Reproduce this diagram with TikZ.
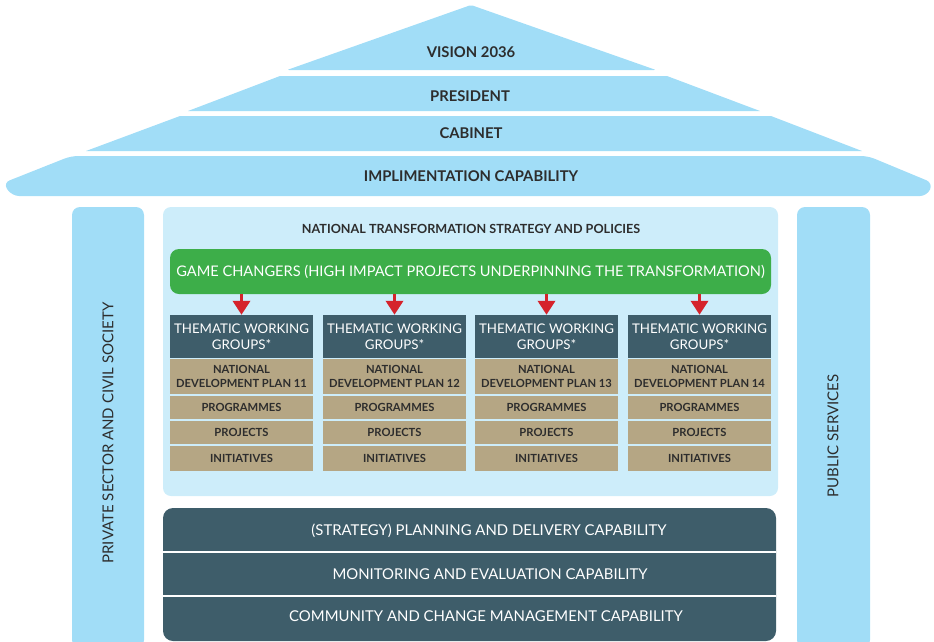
\documentclass[tikz,border=0pt]{standalone}
\usepackage{fontspec}
\setmainfont{Lato}
\usetikzlibrary{arrows.meta}
\definecolor{roofblue}{HTML}{A1DDF7}
\definecolor{panelblue}{HTML}{CDEDFA}
\definecolor{gcgreen}{HTML}{3DAE49}
\definecolor{slate}{HTML}{3E5D6A}
\definecolor{tan}{HTML}{B5A684}
\definecolor{arrowred}{HTML}{D5232B}
\definecolor{textdark}{HTML}{2D2D2D}
\tikzset{
  rooftext/.style={text=textdark, font=\fontsize{14.8}{16}\selectfont\bfseries},
  header/.style={fill=slate, text=white, minimum width=143pt, minimum height=43pt, inner sep=0pt, align=center, font=\fontsize{13.3}{15.5}\selectfont},
  tanbox/.style={fill=tan, text=textdark, minimum width=143pt, inner sep=0pt, align=center, font=\fontsize{11.2}{14}\selectfont\bfseries},
  captext/.style={text=white, font=\fontsize{14.9}{16}\selectfont},
  coltext/.style={text=textdark, rotate=90, font=\fontsize{15}{16}\selectfont},
  redarrow/.style={draw=arrowred, line width=3.5pt, -{Triangle[width=17pt,length=14pt]}, arrowred},
}
\begin{document}
\begin{tikzpicture}[x=1pt,y=-1pt]
\useasboundingbox (0,0) rectangle (934,641);
% roof
\fill[roofblue, rounded corners=2pt] (287,70) -- (471,5) -- (656,70) -- cycle;
\fill[roofblue] (280,76) -- (667,76) -- (760,111) -- (188,111) -- cycle;
\fill[roofblue] (180,116) -- (771,116) -- (862,151) -- (86,151) -- cycle;
\fill[roofblue, rounded corners=7pt] (71,156) -- (868,156) -- (933,183) -- (927,196) -- (12,196) -- (3,183) -- cycle;
\node[rooftext] (vision) at (471,52) {VISION 2036};
\node[rooftext] (president) at (470,96) {PRESIDENT};
\node[rooftext] (cabinet) at (471,133) {CABINET};
\node[rooftext] (impl) at (471,176) {IMPLIMENTATION CAPABILITY};
% columns
\fill[roofblue, rounded corners=8pt] (72,207) rectangle (144,648);
\fill[roofblue, rounded corners=8pt] (797,207) rectangle (870,648);
\node[coltext] (private) at (108,433) {PRIVATE SECTOR AND CIVIL SOCIETY};
\node[coltext] (public) at (833,436) {PUBLIC SERVICES};
% panel
\fill[panelblue, rounded corners=8pt] (163,207) rectangle (778,496);
\node[text=textdark, font=\fontsize{12.6}{14}\selectfont\bfseries] (nts) at (471,229) {NATIONAL TRANSFORMATION STRATEGY AND POLICIES};
\node[fill=gcgreen, rounded corners=9pt, minimum width=601pt, minimum height=45pt, inner sep=0pt, text=white, font=\fontsize{14.6}{16}\selectfont] (gc) at (470.5,271.5) {GAME CHANGERS (HIGH IMPACT PROJECTS UNDERPINNING THE TRANSFORMATION)};
% thematic columns
\foreach \i/\cx/\n in {1/241.5/11, 2/394.5/12, 3/546.5/13, 4/699.5/14} {
  \node[header] (twg\i) at (\cx,336.5) {THEMATIC WORKING\\GROUPS*};
  \node[tanbox, minimum height=35pt] (ndp\i) at (\cx,376.5) {NATIONAL\\DEVELOPMENT PLAN \n};
  \node[tanbox, minimum height=23pt] (prog\i) at (\cx,407.5) {PROGRAMMES};
  \node[tanbox, minimum height=23pt] (proj\i) at (\cx,432.5) {PROJECTS};
  \node[tanbox, minimum height=25pt] (init\i) at (\cx,458.5) {INITIATIVES};
  \draw[redarrow] (gc.south -| twg\i.north) -- (twg\i.north);
}
% capability block
\fill[slate, rounded corners=10pt] (163,508) rectangle (776,641);
\draw[white, line width=1.5pt] (163,552) -- (776,552);
\draw[white, line width=1.5pt] (163,596) -- (776,596);
\node[captext] (plan) at (489,531) {(STRATEGY) PLANNING AND DELIVERY CAPABILITY};
\node[captext] (mon) at (490,574) {MONITORING AND EVALUATION CAPABILITY};
\node[captext] (comm) at (486,616) {COMMUNITY AND CHANGE MANAGEMENT CAPABILITY};
\end{tikzpicture}
\end{document}
